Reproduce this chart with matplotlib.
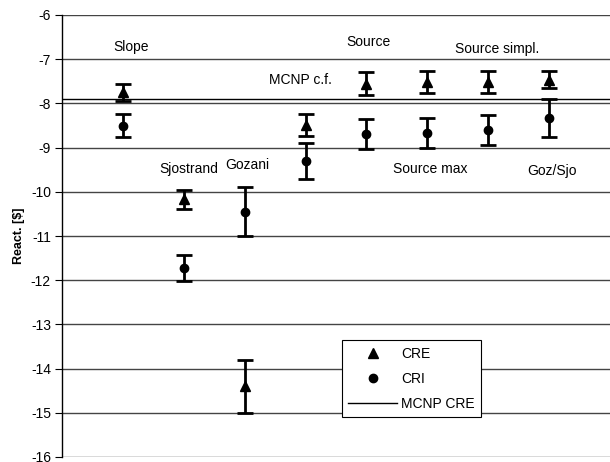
import matplotlib
matplotlib.use("Agg")
import matplotlib.pyplot as plt
from matplotlib.lines import Line2D

plt.rcParams['font.family'] = ['Liberation Sans', 'DejaVu Sans']
plt.rcParams['axes.unicode_minus'] = False

methods = ["Slope", "Sjostrand", "Gozani", "MCNP c.f.", "Source", "Source max", "Source simpl.", "Goz/Sjo"]
cre = [-7.75, -10.17, -14.40, -8.48, -7.55, -7.52, -7.52, -7.46]
cre_err = [0.20, 0.22, 0.60, 0.25, 0.27, 0.25, 0.25, 0.20]
cri = [-8.50, -11.72, -10.45, -9.30, -8.70, -8.66, -8.61, -8.34]
cri_err = [0.25, 0.30, 0.55, 0.41, 0.34, 0.34, 0.34, 0.43]
mcnp_cre = -7.91
yticks = list(range(-16, -5))

# label placement (data coords)
label_pos = [(1.13, -6.73), (2.08, -9.48), (3.05, -9.40), (3.92, -7.48),
             (5.03, -6.62), (6.05, -9.48), (7.15, -6.76), (8.05, -9.54)]

fig = plt.figure(figsize=(6.1, 4.62), dpi=100)
ax = fig.add_axes([62/610, 5/462, 548/610, 442/462])
x = list(range(1, len(methods) + 1))

for y in yticks:
    ax.axhline(y, color='#444444', lw=1.0, zorder=1)
ax.axhline(mcnp_cre, color='black', lw=1.0, zorder=1)

ax.errorbar(x, cre, yerr=cre_err, fmt='^', color='black', ms=7, lw=2,
            capsize=6, capthick=2, zorder=3)
ax.errorbar(x, cri, yerr=cri_err, fmt='o', color='black', ms=6, lw=2,
            capsize=6, capthick=2, zorder=3)

for name, (px, py) in zip(methods, label_pos):
    ax.text(px, py, name, ha='center', va='center', fontsize=10)

ax.set_xlim(0, 9)
ax.set_ylim(-16, -6)
ax.set_yticks(yticks)
ax.set_xticks([])
for s in ['top', 'right', 'bottom']:
    ax.spines[s].set_visible(False)
ax.spines['left'].set_linewidth(1.0)
ax.tick_params(axis='y', direction='out', length=5, labelsize=10, pad=3)
ax.set_ylabel("React. [$]", fontsize=9, fontweight='bold', labelpad=4)

handles = [Line2D([], [], marker='^', color='black', ls='none', ms=7),
           Line2D([], [], marker='o', color='black', ls='none', ms=6),
           Line2D([], [], color='black', lw=1)]
leg = ax.legend(handles, ['CRE', 'CRI', 'MCNP CRE'], loc='lower left',
                bbox_to_anchor=(0.511, 0.09), fancybox=False, framealpha=1,
                edgecolor='black', fontsize=10, handlelength=3.5,
                labelspacing=0.8, borderpad=0.45, handletextpad=0.3,
                borderaxespad=0)
leg.get_frame().set_linewidth(0.8)
leg.set_zorder(5)

fig.savefig("out.png", dpi=100)
